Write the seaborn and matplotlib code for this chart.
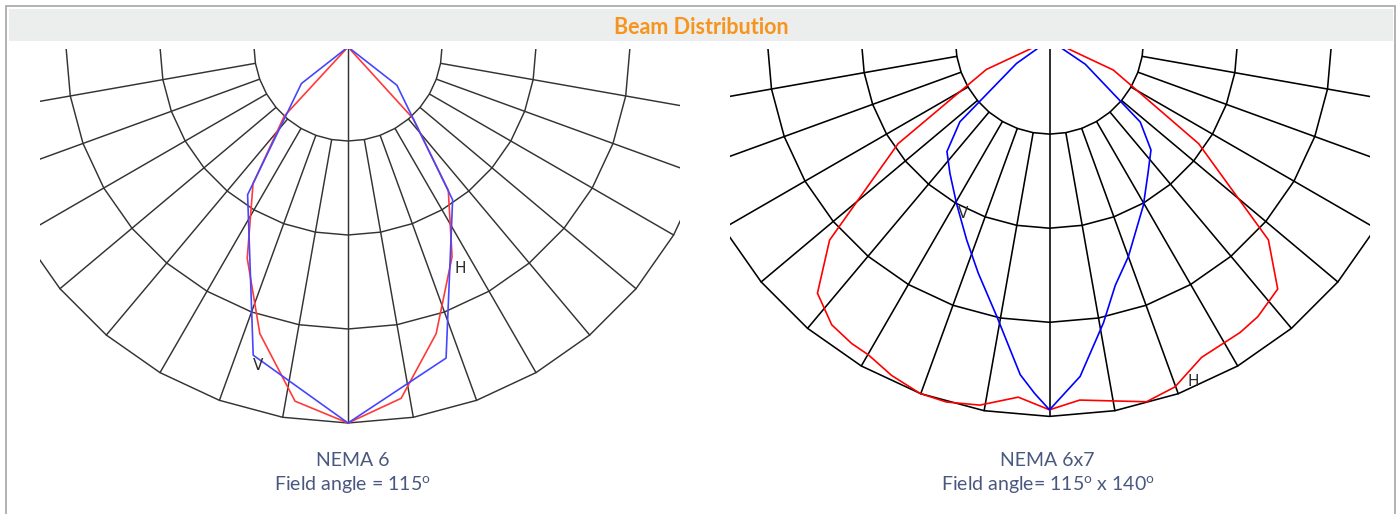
import numpy as np
import pandas as pd
import matplotlib
matplotlib.use('Agg')
import matplotlib.pyplot as plt
from matplotlib.patches import Rectangle
import seaborn as sns

# polar grid of both diagrams (radius in ring units, angle in degrees from nadir)
rings = [1, 2, 3, 4]
spoke_angles = [-80, -70, -60, -50, -40, -30, -20, -10, 10, 20, 30, 40, 50, 60, 70, 80]

# NEMA 6 curves (negative angle = left half)
n6_red_angle = [-51, -42.7, -34.8, -25.5, -17.1, -8.5, 0, 8.6, 17.1, 26.4, 35, 42.3, 51]
n6_red_value = [0, 1.0, 1.77, 2.49, 3.19, 3.81, 4.0, 3.78, 3.19, 2.49, 1.86, 1.03, 0]
n6_blue_angle = [-68, -51.9, -34.2, -17.1, 0, 17.5, 34.4, 52, 68]
n6_blue_value = [0, 0.63, 1.90, 3.43, 4.0, 3.47, 1.97, 0.66, 0]

# NEMA 6x7 curves
n67_red_angle = [-66, -65, -55.6, -47.7, -42.5, -37.4, -33.1, -29.9, -25.2, -20.1, -15.9, -10.8, -5.0, 0,
                 4.8, 15, 19.9, 25.6, 33.1, 37, 42.5, 47.6, 55.2, 64.8, 66]
n67_red_value = [0, 0.74, 1.95, 3.16, 3.65, 3.81, 3.85, 3.86, 3.94, 4.00, 4.00, 3.95, 3.81, 3.93,
                 3.84, 3.98, 3.92, 3.74, 3.71, 3.68, 3.59, 3.15, 1.93, 0.75, 0]
n67_blue_angle = [-58, -54.6, -47.6, -42.6, -36.7, -29.6, -22.5, -17.0, -10.8, -5.0, -2.4, 0,
                  5.2, 10.8, 15, 20, 29.6, 36.5, 42.7, 47.9, 55.9, 60]
n67_blue_value = [0, 0.43, 1.29, 1.61, 1.77, 2.0, 2.30, 2.59, 2.99, 3.57, 3.76, 3.93,
                  3.59, 3.06, 2.70, 2.45, 2.02, 1.76, 1.59, 1.30, 0.46, 0]

# curve labels: (text, angle, radius)
n6_labels = [('V', -15.8, 3.52), ('H', 26.9, 2.64)]
n67_labels = [('V', -26.6, 2.06), ('H', 22.8, 3.94)]

W, H = 1399, 514


def to_xy(angle, value):
    a = np.radians(np.asarray(angle, dtype=float))
    v = np.asarray(value, dtype=float)
    return v * np.sin(a), -v * np.cos(a)


def draw_grid(ax, color, lw):
    full = np.arange(-180, 181, 10)
    for r in rings:
        x, y = to_xy(full, np.full(full.shape, r))
        ax.plot(x, y, color=color, lw=lw, solid_joinstyle='miter')
    for a in spoke_angles:
        x, y = to_xy([a, a], [rings[0], rings[-1]])
        ax.plot(x, y, color=color, lw=lw)
    x, y = to_xy([0, 0], [0, rings[-1]])
    ax.plot(x, y, color=color, lw=lw)


def draw_curve(ax, angle, value, color):
    x, y = to_xy(angle, value)
    df = pd.DataFrame({'x': x, 'y': y})
    sns.lineplot(data=df, x='x', y='y', sort=False, estimator=None, color=color, lw=1.2, ax=ax)


def make_axes(fig, left, right, top, bottom, cx, cy, scale):
    ax = fig.add_axes([left / W, 1 - bottom / H, (right - left) / W, (bottom - top) / H])
    ax.set_xlim((left - cx) / scale, (right - cx) / scale)
    ax.set_ylim(-(bottom - cy) / scale, -(top - cy) / scale)
    ax.axis('off')
    return ax


sns.set_theme(style='white')
plt.rcParams['font.family'] = ['Lato', 'DejaVu Sans']

fig = plt.figure(figsize=(W / 100, H / 100), dpi=100)

# frame and title band
fig.add_artist(Rectangle((6 / W, -0.1), 1389 / W, 1.1 - 6 / H, transform=fig.transFigure,
                         fill=False, edgecolor='#a5a5a5', lw=1.2))
fig.add_artist(Rectangle((9 / W, 1 - 41 / H), 1384 / W, 32 / H, transform=fig.transFigure,
                         facecolor='#eceeed', edgecolor='none'))
fig.text(701 / W, 1 - 28 / H, 'Beam Distribution', ha='center', va='center',
         color='#f7941d', fontsize=15.5, fontweight='bold')

# NEMA 6
ax1 = make_axes(fig, 40, 680, 49, 440, 348, 47, 94.0)
draw_grid(ax1, '#333333', 1.05)
draw_curve(ax1, n6_red_angle, n6_red_value, '#ff3a3a')
draw_curve(ax1, n6_blue_angle, n6_blue_value, '#4646ff')
for t, a, r in n6_labels:
    x, y = to_xy(a, r)
    ax1.text(x, y, t, ha='center', va='center', fontsize=11, color='#2a2a2a', family='DejaVu Sans')

# NEMA 6x7
ax2 = make_axes(fig, 730, 1370, 49, 440, 1049.5, 40, 94.1)
draw_grid(ax2, 'black', 1.15)
draw_curve(ax2, n67_red_angle, n67_red_value, '#ff0000')
draw_curve(ax2, n67_blue_angle, n67_blue_value, '#0000ff')
for t, a, r in n67_labels:
    x, y = to_xy(a, r)
    ax2.text(x, y, t, ha='center', va='center', fontsize=11, color='#2a2a2a', family='DejaVu Sans')

# captions
cap = dict(ha='center', va='center', color='#4a5880', fontsize=14, fontweight='normal')
fig.text(353 / W, 1 - 460 / H, 'NEMA 6', **cap)
fig.text(352 / W, 1 - 485 / H, 'Field angle = 115$^\\mathregular{o}$', **cap)
fig.text(1047 / W, 1 - 460 / H, 'NEMA 6x7', **cap)
fig.text(1048 / W, 1 - 485 / H, 'Field angle= 115$^\\mathregular{o}$ x 140$^\\mathregular{o}$', **cap)

fig.savefig('out.png', dpi=100)
